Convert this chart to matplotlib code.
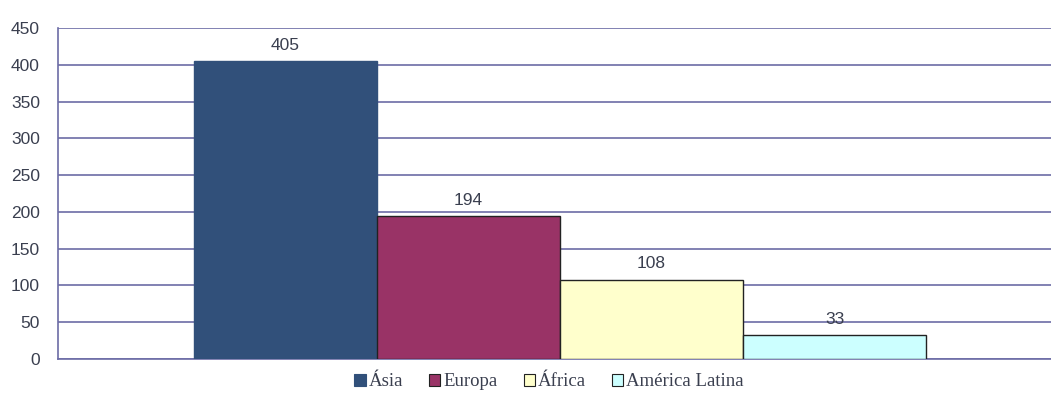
import matplotlib
matplotlib.use("Agg")
import matplotlib.pyplot as plt
from matplotlib.patches import Patch

categories = ["Ásia", "Europa", "África", "América Latina"]
values = [405, 194, 108, 33]
colors = ["#31507A", "#993366", "#FFFFCC", "#CCFFFF"]
edges = ["#31507A", "#222222", "#222222", "#222222"]
yticks = [0, 50, 100, 150, 200, 250, 300, 350, 400, 450]

W, H = 1051, 405
fig = plt.figure(figsize=(W / 100, H / 100), dpi=100)
ax = fig.add_axes([58 / W, (H - 359) / H, (1062 - 58) / W, (359 - 28) / H])

numfont = ["Liberation Sans", "DejaVu Sans"]
txtcol = "#3a3f4f"
gridcol = "#6c6ca6"

for i, (v, c, e) in enumerate(zip(values, colors, edges)):
    ax.bar(i, v, width=1.0, color=c, edgecolor=e, linewidth=1.0, zorder=3)
    ax.text(i, v + 11, str(v), ha="center", va="bottom", fontsize=12.5,
            family=numfont, color=txtcol, zorder=4)

ax.set_xlim(-1.243, 4.243)
ax.set_ylim(0, 450)
ax.set_yticks(yticks)
ax.set_yticklabels([str(t) for t in yticks], family=numfont, fontsize=12.5, color=txtcol)
ax.tick_params(axis="y", length=0, pad=13)
ax.set_xticks([])
ax.grid(axis="y", color=gridcol, linewidth=1.2, zorder=0)
for s in ["top", "right"]:
    ax.spines[s].set_visible(False)
ax.spines["left"].set_color(gridcol)
ax.spines["left"].set_linewidth(1.2)
ax.spines["bottom"].set_color(gridcol)
ax.spines["bottom"].set_linewidth(1.2)

handles = [Patch(facecolor=c, edgecolor=("#31507A" if i == 0 else "#222222"), linewidth=0.8)
           for i, c in enumerate(colors)]
leg = fig.legend(handles, categories, loc="center", bbox_to_anchor=(549 / W, (H - 382) / H),
                 ncol=4, frameon=False, handlelength=0.6, handleheight=0.6,
                 handletextpad=0.15, columnspacing=1.4,
                 prop={"family": ["Liberation Serif", "DejaVu Serif"], "size": 13.5})
for t in leg.get_texts():
    t.set_color(txtcol)

fig.savefig("out.png", dpi=100)
